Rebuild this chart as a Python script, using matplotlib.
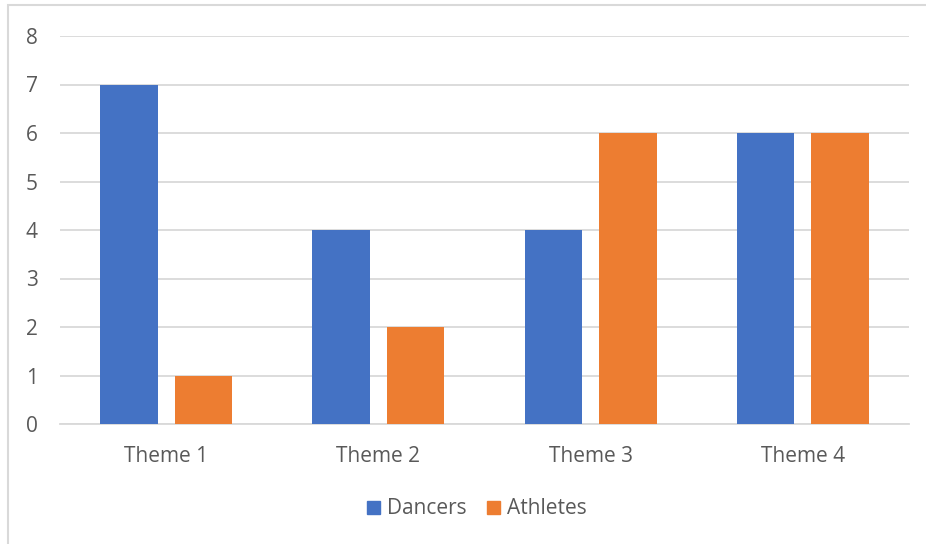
import matplotlib
matplotlib.use("Agg")
import matplotlib.pyplot as plt
import numpy as np
from matplotlib.patches import Rectangle, Patch

# Chart data
themes = ["Theme 1", "Theme 2", "Theme 3", "Theme 4"]
dancers = [7, 4, 4, 6]
athletes = [1, 2, 6, 6]

BLUE = "#4472C4"
ORANGE = "#ED7D31"
GRID = "#D9D9D9"
TEXT = "#595959"

plt.rcParams["font.family"] = ["Open Sans", "DejaVu Sans"]

fig = plt.figure(figsize=(9.26, 5.44), dpi=100)
ax = fig.add_axes([60 / 926, 1 - 424 / 544, 849 / 926, 388 / 544])

x = np.arange(len(themes))
width = 0.271
offset = 0.176
ax.bar(x - offset, dancers, width, color=BLUE, label="Dancers", zorder=3)
ax.bar(x + offset, athletes, width, color=ORANGE, label="Athletes", zorder=3)

ax.set_xlim(-0.5, len(themes) - 0.5)
ax.set_ylim(0, 8)
ax.set_yticks(range(0, 9))
ax.set_xticks(x)
ax.set_xticklabels(themes)
ax.grid(axis="y", color=GRID, linewidth=1.3, zorder=0)
for side in ["top", "right", "left"]:
    ax.spines[side].set_visible(False)
ax.spines["bottom"].set_color(GRID)
ax.spines["bottom"].set_linewidth(1.3)
ax.tick_params(length=0, colors=TEXT, labelsize=15)
ax.tick_params(axis="x", pad=16)
ax.tick_params(axis="y", pad=16)

handles = [Patch(color=BLUE, label="Dancers"), Patch(color=ORANGE, label="Athletes")]
fig.legend(handles=handles, loc="center", bbox_to_anchor=(477 / 926, 1 - 509 / 544),
           ncol=2, frameon=False, fontsize=15, labelcolor=TEXT,
           handlelength=0.6, handleheight=0.6, handletextpad=0.35, columnspacing=1.0)

# outer chart border
fig.patches.append(Rectangle((8 / 926, -0.1), 1.1, 1 - 5 / 544 + 0.1,
                             transform=fig.transFigure, fill=False,
                             edgecolor=GRID, linewidth=1.5))

fig.savefig("out.png", dpi=100)
